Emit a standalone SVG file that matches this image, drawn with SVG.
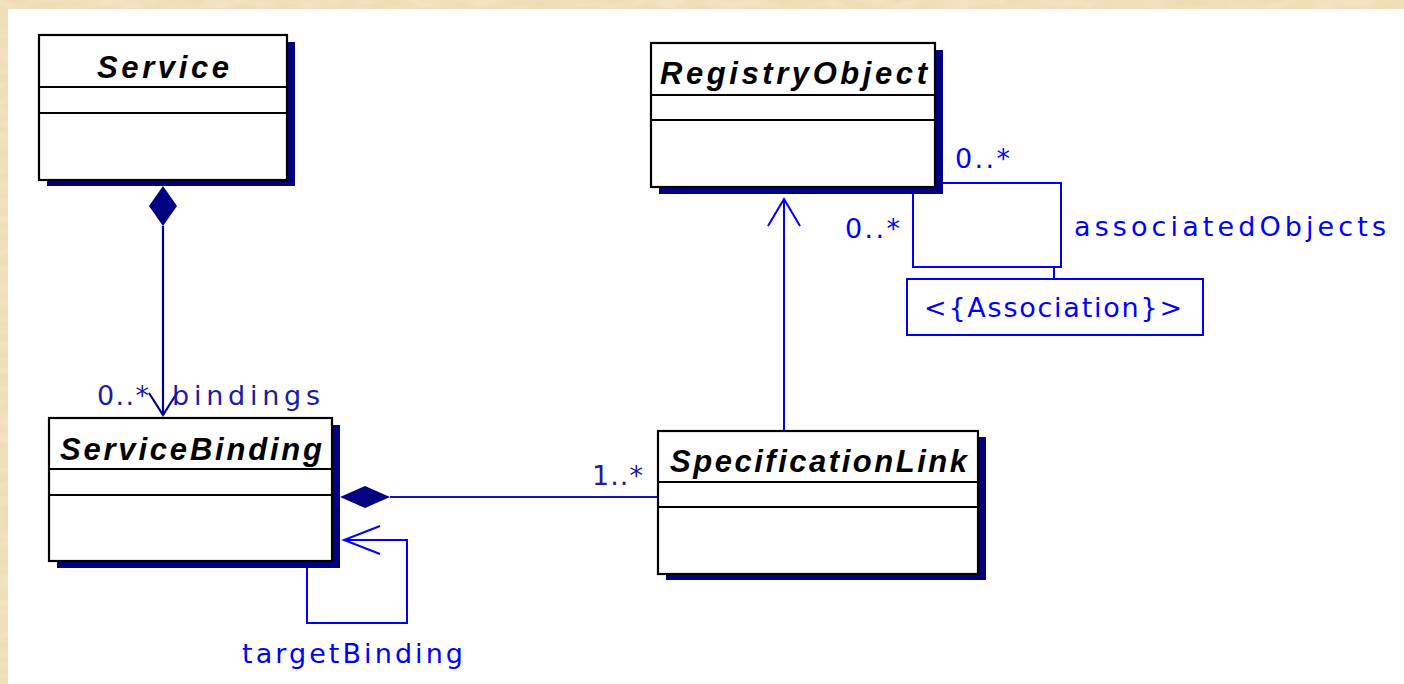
<svg xmlns="http://www.w3.org/2000/svg" width="1404" height="684" viewBox="0 0 1404 684">
  <defs>
    <filter id="grain" x="0" y="0" width="100%" height="100%">
      <feTurbulence type="fractalNoise" baseFrequency="0.035 0.12" numOctaves="3" seed="7" result="n"/>
      <feColorMatrix in="n" type="matrix" values="0 0 0 0 0.91  0 0 0 0 0.80  0 0 0 0 0.60  0 0 0 -1.1 0.85" result="tint"/>
      <feComposite in="tint" in2="SourceGraphic" operator="over"/>
    </filter>
    <style>
      .frame { fill: #ffffff; stroke: #000000; stroke-width: 2.2; }
      .sep { stroke: #000000; stroke-width: 2; }
      .shadow { fill: #000080; }
      .title { font-family: "Liberation Sans", Arial, sans-serif; font-weight: bold; font-style: italic; font-size: 31px; fill: #000000; }
      .lbl { font-family: "DejaVu Sans", "Liberation Sans", sans-serif; font-size: 27px; }
      .blue { fill: #0000ff; }
      .navy { fill: #1c1ca0; }
      .ln-blue { fill: none; stroke: #0000ff; stroke-width: 2; }
      .ln-navy { fill: none; stroke: #000090; stroke-width: 2.2; }
      .ln-mid { fill: none; stroke: #1212c4; stroke-width: 2; }
      .diamond { fill: #000080; }
    </style>
  </defs>

  <!-- parchment border and white canvas -->
  <rect x="0" y="0" width="1404" height="684" fill="#efdcb2" filter="url(#grain)"/>
  <rect x="8" y="9" width="1396" height="675" fill="#ffffff"/>

  <!-- connectors -->
  <g id="connectors">
    <!-- Service composition to ServiceBinding -->
    <polygon class="diamond" points="163,186 177,206 163,226 149,206"/>
    <line class="ln-navy" x1="163" y1="226" x2="163" y2="415"/>
    <polyline class="ln-navy" points="149,393 163,415 177,393"/>

    <!-- ServiceBinding composition to SpecificationLink -->
    <polygon class="diamond" points="340,497 365,486 390,497 365,508"/>
    <line class="ln-mid" x1="390" y1="497" x2="658" y2="497"/>

    <!-- targetBinding self association -->
    <polyline class="ln-blue" points="344,540 407,540 407,623 307,623 307,567"/>
    <polyline class="ln-blue" points="380,526 344,540 380,554"/>

    <!-- SpecificationLink generalizes RegistryObject -->
    <line class="ln-blue" x1="784" y1="431" x2="784" y2="199"/>
    <polyline class="ln-blue" points="768,226 784,199 800,226"/>

    <!-- associatedObjects self association with association class -->
    <polyline class="ln-blue" points="942,183 1061,183 1061,267 913,267 913,193"/>
    <line class="ln-blue" x1="1054" y1="267" x2="1054" y2="279"/>
    <rect class="ln-blue" x="907" y="279" width="296" height="56"/>
    <text class="lbl blue" x="924" y="317" textLength="258">&lt;{Association}&gt;</text>

    <!-- end labels -->
    <text class="lbl navy" x="97" y="405" textLength="52">0..*</text>
    <text class="lbl navy" x="172" y="405" textLength="148">bindings</text>
    <text class="lbl navy" x="592" y="485" textLength="51">1..*</text>
    <text class="lbl blue" x="242" y="663" textLength="221">targetBinding</text>
    <text class="lbl blue" x="955" y="168" textLength="55">0..*</text>
    <text class="lbl blue" x="845" y="238" textLength="55">0..*</text>
    <text class="lbl blue" x="1074" y="236" textLength="312">associatedObjects</text>
  </g>

  <!-- Service -->
  <g id="service">
    <rect class="shadow" x="47" y="42" width="248" height="144"/>
    <rect class="frame" x="39" y="35" width="248" height="145"/>
    <line class="sep" x1="39" y1="87" x2="287" y2="87"/>
    <line class="sep" x1="39" y1="113" x2="287" y2="113"/>
    <text class="title" x="97" y="78" textLength="132">Service</text>
  </g>

  <!-- ServiceBinding -->
  <g id="serviceBinding">
    <rect class="shadow" x="57" y="425" width="283" height="143"/>
    <rect class="frame" x="49" y="418" width="283" height="143"/>
    <line class="sep" x1="49" y1="469" x2="332" y2="469"/>
    <line class="sep" x1="49" y1="495" x2="332" y2="495"/>
    <text class="title" x="60" y="460" textLength="262">ServiceBinding</text>
  </g>

  <!-- RegistryObject -->
  <g id="registryObject">
    <rect class="shadow" x="659" y="50" width="284" height="144"/>
    <rect class="frame" x="651" y="43" width="284" height="144"/>
    <line class="sep" x1="651" y1="95" x2="935" y2="95"/>
    <line class="sep" x1="651" y1="120" x2="935" y2="120"/>
    <text class="title" x="660" y="84" textLength="267">RegistryObject</text>
  </g>

  <!-- SpecificationLink -->
  <g id="specificationLink">
    <rect class="shadow" x="666" y="437" width="320" height="143"/>
    <rect class="frame" x="658" y="431" width="320" height="143"/>
    <line class="sep" x1="658" y1="482" x2="978" y2="482"/>
    <line class="sep" x1="658" y1="507" x2="978" y2="507"/>
    <text class="title" x="670" y="472" textLength="297">SpecificationLink</text>
  </g>
</svg>
